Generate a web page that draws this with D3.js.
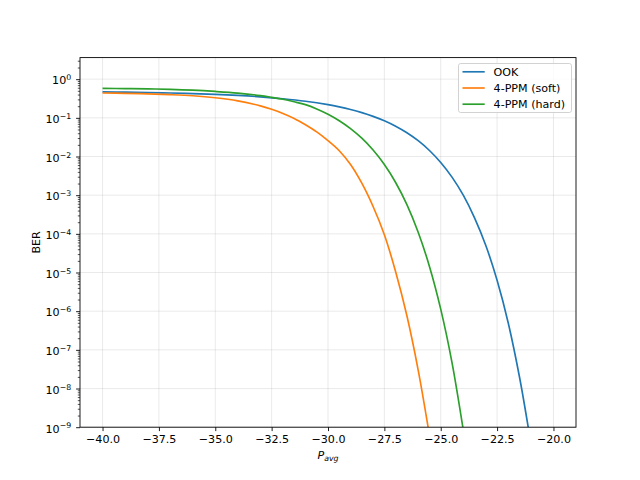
<!DOCTYPE html>
<html>
<head>
<meta charset="utf-8">
<script src="https://cdn.jsdelivr.net/npm/d3@7"></script>
<style>
  html, body { margin: 0; padding: 0; background: #ffffff; }
  svg { display: block; font-family: "DejaVu Sans", sans-serif; }
</style>
</head>
<body>
<svg id="chart" width="640" height="480"></svg>
<script>
// ---- data ----
const seriesNames = ["OOK", "4-PPM (soft)", "4-PPM (hard)"];
const seriesColors = ["#1f77b4", "#ff7f0e", "#2ca02c"];

const pavgOOK = [-40, -39, -38, -37, -36, -35, -34, -33, -32, -31, -30, -29.5, -29, -28.5, -28, -27.5, -27, -26.5, -26, -25.5, -25, -24.5, -24, -23.5, -23, -22.5, -22, -21.5, -21.12];
const berOOK  = [0.469, 0.461, 0.451, 0.438, 0.423, 0.403, 0.379, 0.349, 0.312, 0.269, 0.219, 0.192, 0.164, 0.136, 0.109, 0.0837, 0.0606, 0.0411, 0.0256, 0.0143, 7.0e-3, 2.93e-3, 1.0e-3, 2.6e-4, 5.0e-5, 6.3e-6, 4.8e-7, 1.9e-8, 1e-9];

const pavgSoft = [-40, -39, -38, -37, -36, -35, -34, -33, -32.5, -32, -31.5, -31, -30.5, -30, -29.5, -29, -28.5, -28, -27.5, -27, -26.5, -26, -25.56];
const berSoft  = [0.439, 0.431, 0.417, 0.398, 0.372, 0.331, 0.275, 0.204, 0.166, 0.130, 0.0966, 0.0661, 0.0432, 0.0257, 0.0141, 6.2e-3, 2.04e-3, 5.1e-4, 9.5e-5, 1.05e-5, 7.6e-7, 3.0e-8, 1e-9];

const pavgHard = [-40, -39, -38, -37, -36, -35, -34, -33, -32.5, -32, -31.5, -31, -30.5, -30, -29.5, -29, -28.5, -28, -27.5, -27, -26.5, -26, -25.5, -25, -24.5, -24.02];
const berHard  = [0.58, 0.571, 0.561, 0.545, 0.519, 0.481, 0.436, 0.376, 0.339, 0.302, 0.26, 0.219, 0.17, 0.124, 0.0842, 0.0526, 0.0297, 0.0147, 6.2e-3, 2.13e-3, 5.7e-4, 1.1e-4, 1.44e-5, 1.13e-6, 4.7e-8, 1e-9];

const xTicks = [-40, -37.5, -35, -32.5, -30, -27.5, -25, -22.5, -20];
const yExponents = [-9, -8, -7, -6, -5, -4, -3, -2, -1, 0];

const xLabelMain = "P";
const xLabelSub = "avg";
const yLabel = "BER";

// ---- layout ----
const W = 640, H = 480;
const pL = 80, pR = 576, pT = 57.6, pB = 427.2;
const FS = 11.1;

const svg = d3.select("#chart");
svg.append("rect").attr("width", W).attr("height", H).attr("fill", "#ffffff");

const x = d3.scaleLinear().domain([-41, -19]).range([pL, pR]);
const y = d3.scaleLog().domain([1e-9, 3.61]).range([pB, pT]);

// grid
const grid = svg.append("g");
xTicks.forEach(t => {
  grid.append("line")
    .attr("x1", x(t)).attr("x2", x(t)).attr("y1", pT).attr("y2", pB)
    .attr("stroke", "#b0b0b0").attr("stroke-opacity", 0.3).attr("stroke-width", 0.89);
});
yExponents.forEach(e => {
  grid.append("line")
    .attr("x1", pL).attr("x2", pR).attr("y1", y(Math.pow(10, e))).attr("y2", y(Math.pow(10, e)))
    .attr("stroke", "#b0b0b0").attr("stroke-opacity", 0.3).attr("stroke-width", 0.89);
});

// clip
svg.append("clipPath").attr("id", "plotclip")
  .append("rect").attr("x", pL).attr("y", pT).attr("width", pR - pL).attr("height", pB - pT);

const line = d3.line()
  .x(d => x(d[0]))
  .y(d => y(d[1]))
  .curve(d3.curveCatmullRom.alpha(0.5));

const series = [
  d3.zip(pavgOOK, berOOK),
  d3.zip(pavgSoft, berSoft),
  d3.zip(pavgHard, berHard)
];

const plot = svg.append("g").attr("clip-path", "url(#plotclip)");
series.forEach((s, i) => {
  plot.append("path")
    .datum(s)
    .attr("d", line)
    .attr("fill", "none")
    .attr("stroke", seriesColors[i])
    .attr("stroke-width", 1.67)
    .attr("stroke-linejoin", "round")
    .attr("stroke-linecap", "butt");
});

// axes
const fmtX = d => d3.format(".1f")(d).replace("-", "\u2212");
const xAxis = d3.axisBottom(x).tickValues(xTicks).tickFormat(fmtX).tickSizeInner(3.9).tickSizeOuter(0).tickPadding(3.9);
const gx = svg.append("g").attr("transform", `translate(0,${pB})`).call(xAxis);
gx.select(".domain").remove();
gx.selectAll(".tick line").attr("stroke", "#000").attr("stroke-width", 0.89);
gx.selectAll(".tick text").attr("fill", "#000").attr("font-size", FS + "px").attr("font-family", "DejaVu Sans");

// y major ticks
const yAxis = d3.axisLeft(y).tickValues(yExponents.map(e => Math.pow(10, e))).tickFormat("").tickSizeInner(3.9).tickSizeOuter(0);
const gy = svg.append("g").attr("transform", `translate(${pL},0)`).call(yAxis);
gy.select(".domain").remove();
gy.selectAll(".tick line").attr("stroke", "#000").attr("stroke-width", 0.89);

// y minor ticks
const minor = [];
for (let e = -9; e <= 0; e++) {
  for (let k = 2; k <= 9; k++) {
    const v = k * Math.pow(10, e);
    if (v <= 3.61) minor.push(v);
  }
}
const yMinor = d3.axisLeft(y).tickValues(minor).tickFormat("").tickSizeInner(2.2).tickSizeOuter(0);
const gym = svg.append("g").attr("transform", `translate(${pL},0)`).call(yMinor);
gym.select(".domain").remove();
gym.selectAll(".tick line").attr("stroke", "#000").attr("stroke-width", 0.67);

// y tick labels with superscript
yExponents.forEach(e => {
  const t = svg.append("text")
    .attr("x", pL - 8.8)
    .attr("y", y(Math.pow(10, e)) + 5.3)
    .attr("text-anchor", "end")
    .attr("font-size", FS + "px")
    .attr("fill", "#000");
  t.append("tspan").text("10");
  t.append("tspan").attr("dy", -4.2).attr("font-size", "7.8px").text(e < 0 ? "\u2212" + Math.abs(e) : String(e));
});

// frame
svg.append("rect")
  .attr("x", pL).attr("y", pT).attr("width", pR - pL).attr("height", pB - pT)
  .attr("fill", "none").attr("stroke", "#000").attr("stroke-width", 0.89);

// x label
const xl = svg.append("text")
  .attr("x", (pL + pR) / 2)
  .attr("y", 459)
  .attr("text-anchor", "middle")
  .attr("font-size", FS + "px")
  .attr("fill", "#000");
xl.append("tspan").attr("font-style", "italic").text(xLabelMain);
xl.append("tspan").attr("font-style", "italic").attr("font-size", "7.8px").attr("dy", 1.8).text(xLabelSub);

// y label
svg.append("text")
  .attr("transform", `translate(40,${(pT + pB) / 2}) rotate(-90)`)
  .attr("text-anchor", "middle")
  .attr("font-size", FS + "px")
  .attr("fill", "#000")
  .text(yLabel);

// legend
const lg = svg.append("g");
lg.append("rect")
  .attr("x", 458.5).attr("y", 63.5).attr("width", 113).attr("height", 49)
  .attr("rx", 2.2).attr("ry", 2.2)
  .attr("fill", "#ffffff").attr("fill-opacity", 0.8)
  .attr("stroke", "#cccccc").attr("stroke-width", 0.89);
seriesNames.forEach((n, i) => {
  const yy = 71.8 + i * 16.2;
  lg.append("line")
    .attr("x1", 462.5).attr("x2", 484.7).attr("y1", yy).attr("y2", yy)
    .attr("stroke", seriesColors[i]).attr("stroke-width", 1.67);
  lg.append("text")
    .attr("x", 493.6).attr("y", yy + 4)
    .attr("font-size", FS + "px").attr("fill", "#000")
    .text(n);
});
</script>
</body>
</html>
